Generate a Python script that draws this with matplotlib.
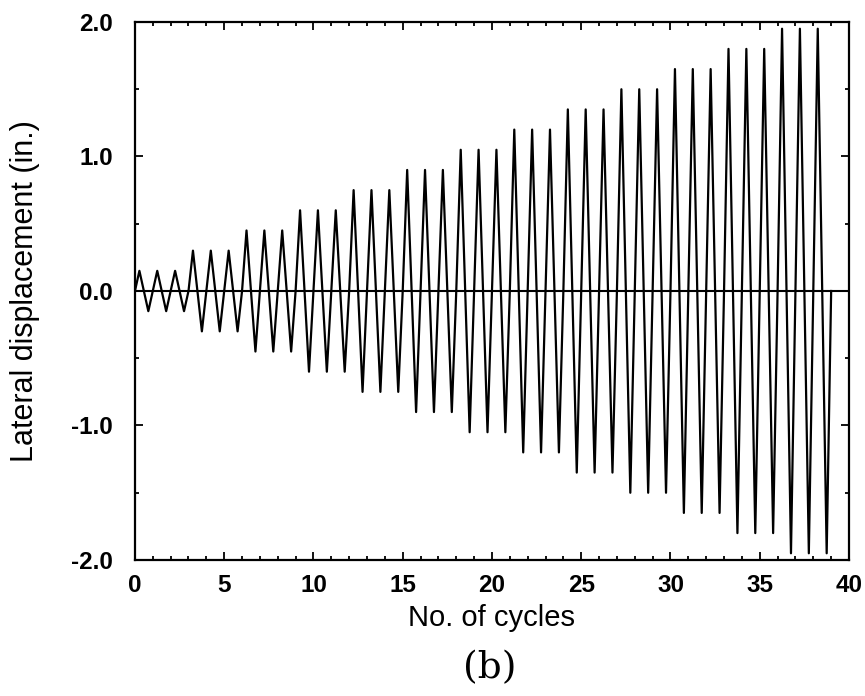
import matplotlib
matplotlib.use("Agg")
import matplotlib.pyplot as plt
from matplotlib.ticker import MultipleLocator, FormatStrFormatter

# Amplitude of each loading level (in.)
level_amplitudes = [0.15, 0.30, 0.45, 0.60, 0.75, 0.90, 1.05,
                    1.20, 1.35, 1.50, 1.65, 1.80, 1.95]
cycles_per_level = [3, 3, 3, 3, 3, 3, 3, 3, 3, 3, 3, 3, 3]

x_ticks = [0, 5, 10, 15, 20, 25, 30, 35, 40]
y_ticks = [-2.0, -1.0, 0.0, 1.0, 2.0]

# Build triangular displacement history: 0 -> +A -> -A -> 0 per cycle
t = [0.0]
d = [0.0]
cycle = 0
for amp, n in zip(level_amplitudes, cycles_per_level):
    for _ in range(n):
        t += [cycle + 0.25, cycle + 0.75, cycle + 1.0]
        d += [amp, -amp, 0.0]
        cycle += 1

fig = plt.figure(figsize=(8.65, 6.96), dpi=100)
ax = fig.add_axes([0.156, 0.1954, 0.8255, 0.773])

ax.plot(t, d, color="black", lw=1.6)
ax.axhline(0.0, color="black", lw=1.5)

ax.set_xlim(0, 40)
ax.set_ylim(-2.0, 2.0)
ax.set_xticks(x_ticks)
ax.set_yticks(y_ticks)
ax.xaxis.set_minor_locator(MultipleLocator(1))
ax.yaxis.set_minor_locator(MultipleLocator(0.5))
ax.yaxis.set_major_formatter(FormatStrFormatter("%.1f"))

ax.tick_params(which="both", direction="in", top=True, right=True, width=1.3)
ax.tick_params(which="major", length=6)
ax.tick_params(which="minor", length=3)
ax.tick_params(axis="x", which="major", pad=10)
ax.tick_params(axis="y", which="major", pad=16)
for lab in ax.get_xticklabels() + ax.get_yticklabels():
    lab.set_fontfamily("Liberation Sans")
    lab.set_fontsize(17.5)
    lab.set_fontweight("bold")

for sp in ax.spines.values():
    sp.set_linewidth(1.6)

ax.set_xlabel("No. of cycles", fontfamily="Liberation Sans", fontsize=21, labelpad=5)
ax.set_ylabel("Lateral displacement (in.)", fontfamily="Liberation Sans", fontsize=22, labelpad=22)

fig.text(0.566, 0.04, "(b)", fontfamily="DejaVu Serif", fontsize=27,
         ha="center", va="center")

fig.savefig("out.png", dpi=100)
